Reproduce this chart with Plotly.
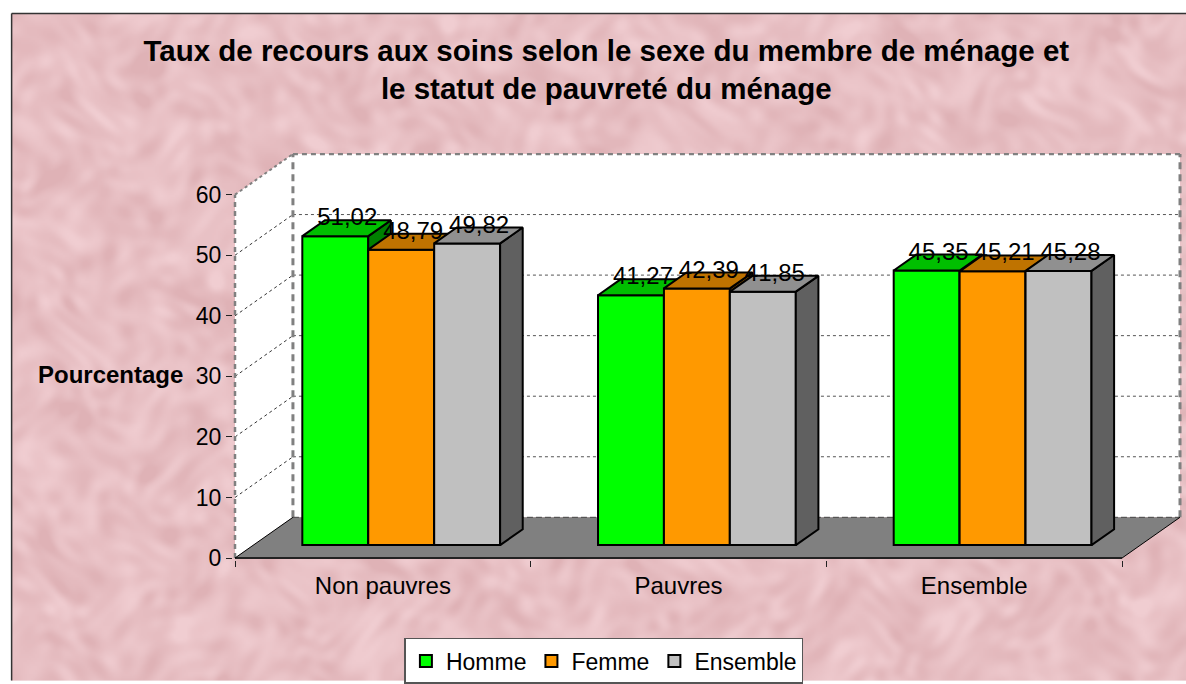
import base64, struct, zlib
import numpy as np
import plotly.graph_objects as go

# ---------- data ----------
categories = ["Non pauvres", "Pauvres", "Ensemble"]
homme = [51.02, 41.27, 45.35]
femme = [48.79, 42.39, 45.21]
ensemble = [49.82, 41.85, 45.28]
series_names = ["Homme", "Femme", "Ensemble"]
y_ticks = [0, 10, 20, 30, 40, 50, 60]
title_text = ("Taux de recours aux soins selon le sexe du membre de ménage et<br>"
              "le statut de pauvreté du ménage")
y_title = "Pourcentage"

front_colors = ["#00FF00", "#FF9900", "#C0C0C0"]
top_colors = ["#00BF00", "#BF7300", "#909090"]
side_colors = ["#008000", "#804D00", "#606060"]

# ---------- 3-D projection of the chart box, in axis units ----------
PX_X = 296.0            # pixels per category
PX_Y = 6.1              # pixels per percentage point
WALL_DX = 58 / PX_X     # horizontal shift from the front plane to the back wall
WALL_DY = 41 / PX_Y     # vertical shift from the front plane to the back wall
BAR_D0 = 13 / 41        # depth at which bars begin
BAR_D1 = 29 / 41        # depth at which bars end
BAR_W = 66 / PX_X
N = len(categories)
X_MIN, X_MAX = -2 / PX_X, 952 / PX_X
Y_MIN, Y_MAX = -2 / PX_Y, 408 / PX_Y
M_L, M_T, PLOT_W, PLOT_H = 232.5, 152.5, 953.5, 410


def px(x):
    return (x - M_L) / PLOT_W


def py(y):
    return (M_T + PLOT_H - y) / PLOT_H


# ---------- mottled paper texture built from sine waves ----------
def texture_uri(w=588, h=336):
    yy, xx = np.mgrid[0:h, 0:w].astype(float)
    warp_x = 6 * np.sin(0.057 * yy + 0.7) + 4 * np.sin(0.113 * yy + 0.039 * xx + 2.1)
    warp_y = 6 * np.sin(0.061 * xx + 1.3) + 4 * np.sin(0.107 * xx - 0.041 * yy + 0.4)
    n = np.zeros_like(xx)
    for k in range(1, 37):
        ang = k * 2.39996
        f = 0.07 + 0.016 * k
        n += np.sin(f * (np.cos(ang) * (xx + warp_x) + np.sin(ang) * (yy + warp_y)) + 1.7 * k * k) / (1 + 0.03 * k)
    n = (n - n.mean()) / n.std()
    n = np.clip(n, -2.5, 2.5)
    base = np.array([232, 192, 196], float)
    amp = np.array([3.5, 5.5, 5.5], float)
    img = np.clip(base[None, None, :] + n[..., None] * amp, 0, 255).astype(np.uint8)
    raw = b"".join(b"\x00" + img[r].tobytes() for r in range(h))

    def chunk(t, d):
        return struct.pack(">I", len(d)) + t + d + struct.pack(">I", zlib.crc32(t + d))

    png = (b"\x89PNG\r\n\x1a\n" + chunk(b"IHDR", struct.pack(">IIBBBBB", w, h, 8, 2, 0, 0, 0))
           + chunk(b"IDAT", zlib.compress(raw, 9)) + chunk(b"IEND", b""))
    return "data:image/png;base64," + base64.b64encode(png).decode()


FONT = "Liberation Sans"
fig = go.Figure()

all_values = [homme, femme, ensemble]
y0 = 13 / PX_Y
for s, (name, vals) in enumerate(zip(series_names, all_values)):
    suffix = "" if s == 0 else str(s + 1)
    xa, ya = "x" + suffix, "y" + suffix
    xs = [c + 0.5 + (s - 1) * BAR_W + BAR_D0 * WALL_DX for c in range(N)]
    fig.add_trace(go.Bar(x=xs, y=vals, base=y0, width=BAR_W, name=name,
                         marker=dict(color=front_colors[s], line=dict(color="black", width=2)),
                         xaxis=xa, yaxis=ya, hoverinfo="skip"))
    ddx = (BAR_D1 - BAR_D0) * WALL_DX
    ddy = (BAR_D1 - BAR_D0) * WALL_DY
    sx, sy, tx, ty = [], [], [], []
    for x, v in zip(xs, vals):
        l, r, t = x - BAR_W / 2, x + BAR_W / 2, v + y0
        sx += [r, r + ddx, r + ddx, r, r, None]
        sy += [y0, y0 + ddy, t + ddy, t, y0, None]
        tx += [l, l + ddx, r + ddx, r, l, None]
        ty += [t, t + ddy, t + ddy, t, t, None]
    fig.add_trace(go.Scatter(x=sx, y=sy, mode="lines", fill="toself", fillcolor=side_colors[s],
                             line=dict(color="black", width=2), xaxis=xa, yaxis=ya,
                             showlegend=False, hoverinfo="skip"))
    fig.add_trace(go.Scatter(x=tx, y=ty, mode="lines", fill="toself", fillcolor=top_colors[s],
                             line=dict(color="black", width=2), xaxis=xa, yaxis=ya,
                             showlegend=False, hoverinfo="skip"))

# data labels go on the top-most overlay
for s, vals in enumerate(all_values):
    xs = [c + 0.5 + (s - 1) * BAR_W + BAR_D0 * WALL_DX + 12 / PX_X for c in range(N)]
    ys = [v + y0 + 17 / PX_Y for v in vals]
    fig.add_trace(go.Scatter(x=xs, y=ys, mode="text",
                             text=[f"{v:.2f}".replace(".", ",") for v in vals],
                             textposition="middle center",
                             textfont=dict(family=FONT, size=24, color="black"),
                             xaxis="x3", yaxis="y3", showlegend=False, hoverinfo="skip"))

# ---------- walls, floor, grid ----------
xe = N * 1.0
dash_grey = "#808080"
shapes = [
    dict(type="path", layer="below", xref="x", yref="y", fillcolor="white", line=dict(width=0),
         path=f"M 0 0 L {WALL_DX} {WALL_DY} L {WALL_DX} {60+WALL_DY} L 0 60 Z"),
    dict(type="rect", layer="below", xref="x", yref="y", fillcolor="white", line=dict(width=0),
         x0=WALL_DX, x1=xe + WALL_DX, y0=WALL_DY, y1=60 + WALL_DY),
    dict(type="path", layer="below", xref="x", yref="y", fillcolor="#808080", line=dict(width=0),
         path=f"M 0 0 L {WALL_DX} {WALL_DY} L {xe+WALL_DX} {WALL_DY} L {xe} 0 Z"),
]
for t in y_ticks[1:-1]:
    shapes.append(dict(type="line", layer="below", xref="x", yref="y", x0=0, y0=t,
                       x1=WALL_DX, y1=t + WALL_DY, line=dict(color="#333333", width=1, dash="3px,3px")))
    shapes.append(dict(type="line", layer="below", xref="x", yref="y", x0=WALL_DX, y0=t + WALL_DY,
                       x1=xe + WALL_DX, y1=t + WALL_DY, line=dict(color="#555555", width=1, dash="3px,3px")))
# dashed box edges
for x0, y0_, x1, y1, w, d in [
    (0, 0, 0, 60, 2.5, "5px,4px"),
    (WALL_DX, WALL_DY, WALL_DX, 60 + WALL_DY, 3, "7px,5px"),
    (xe + WALL_DX, WALL_DY, xe + WALL_DX, 60 + WALL_DY, 3, "7px,5px"),
    (WALL_DX, 60 + WALL_DY, xe + WALL_DX, 60 + WALL_DY, 2.5, "5px,4px"),
    (0, 60, WALL_DX, 60 + WALL_DY, 2, "3px,3px"),
    (WALL_DX, WALL_DY, xe + WALL_DX, WALL_DY, 1, "6px,3px"),
]:
    shapes.append(dict(type="line", layer="below", xref="x", yref="y", x0=x0, y0=y0_, x1=x1, y1=y1,
                       line=dict(color=dash_grey if w > 1 else "#444444", width=w, dash=d)))
# solid floor edges
shapes.append(dict(type="line", layer="below", xref="x", yref="y", x0=0, y0=0, x1=xe, y1=0,
                   line=dict(color="#222222", width=2)))
shapes.append(dict(type="line", layer="below", xref="x", yref="y", x0=0, y0=0, x1=WALL_DX, y1=WALL_DY,
                   line=dict(color="black", width=1)))
shapes.append(dict(type="line", layer="below", xref="x", yref="y", x0=xe, y0=0, x1=xe + WALL_DX, y1=WALL_DY,
                   line=dict(color="black", width=1)))
# outer frame of the chart area
shapes.append(dict(type="line", layer="below", xref="paper", yref="paper",
                   x0=px(11), x1=px(1186), y0=py(12), y1=py(12), line=dict(color="#333333", width=1.5)))
shapes.append(dict(type="line", layer="below", xref="paper", yref="paper",
                   x0=px(11), x1=px(11), y0=py(12), y1=py(684), line=dict(color="#333333", width=1.5)))

hidden = dict(visible=False, range=[X_MIN, X_MAX], overlaying="x", domain=[0, 1])
hiddeny = dict(visible=False, range=[Y_MIN, Y_MAX], overlaying="y", domain=[0, 1])

fig.update_layout(
    width=1186, height=684, autosize=False,
    margin=dict(l=M_L, r=0, t=M_T, b=684 - M_T - PLOT_H, pad=0),
    paper_bgcolor="white", plot_bgcolor="rgba(0,0,0,0)",
    barmode="overlay", shapes=shapes,
    images=[dict(source=texture_uri(), xref="paper", yref="paper", x=px(11), y=py(12),
                 sizex=1175 / PLOT_W, sizey=672 / PLOT_H, sizing="stretch",
                 xanchor="left", yanchor="top", layer="below")],
    title=dict(text=title_text, xref="paper", yref="container", x=px(606), xanchor="center",
               y=1 - 61 / 684, yanchor="top",
               font=dict(family=FONT, size=29.5, color="black", weight="bold")),
    xaxis=dict(range=[X_MIN, X_MAX], tickmode="array",
               tickvals=[c + 0.5 for c in range(N)], ticktext=categories,
               ticks="outside", ticklen=4, tickcolor="rgba(0,0,0,0)", showgrid=False, zeroline=False,
               showline=False, tickfont=dict(family=FONT, size=24, color="black"),
               minor=dict(tickmode="array", tickvals=list(range(N + 1)), ticks="outside",
                          ticklen=6, tickcolor="#222222", showgrid=False)),
    yaxis=dict(range=[Y_MIN, Y_MAX], tickmode="array", tickvals=y_ticks,
               ticks="outside", ticklen=6, tickcolor="#222222", showgrid=False, zeroline=False,
               showline=False, tickfont=dict(family=FONT, size=23, color="black")),
    xaxis2=hidden, yaxis2=hiddeny, xaxis3=hidden, yaxis3=hiddeny,
    legend=dict(orientation="h", xref="paper", yref="paper", x=px(404), y=py(641),
                xanchor="left", yanchor="top", bgcolor="white", bordercolor="#555555", borderwidth=1.5,
                font=dict(family=FONT, size=23, color="black"), itemsizing="constant"),
    annotations=[dict(text=f"<b>{y_title}</b>", xref="paper", yref="y", x=px(184), y=30.3,
                      xanchor="right", yanchor="middle", showarrow=False,
                      font=dict(family=FONT, size=24, color="black"))],
)
fig.write_html("out.html", config={"displayModeBar": False},
               post_script="document.body.style.margin='0';")
